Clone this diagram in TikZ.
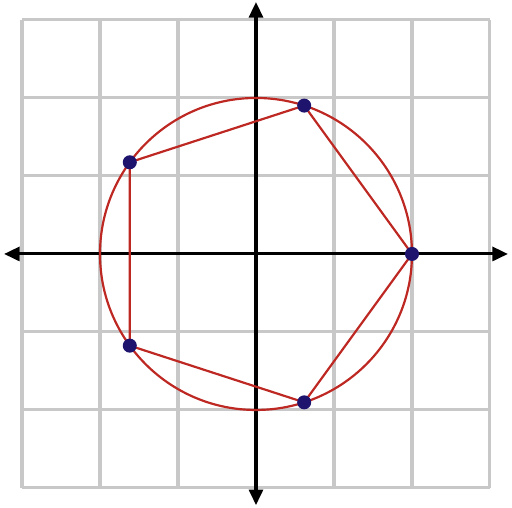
\documentclass[tikz,border=0pt]{standalone}
\usetikzlibrary{arrows.meta}
\definecolor{gridgray}{RGB}{200,200,200}
\definecolor{polyred}{RGB}{190,40,35}
\definecolor{dotblue}{RGB}{30,20,110}
\begin{document}
\begin{tikzpicture}[x=1cm,y=1cm,
  gridline/.style={draw=gridgray,line width=1.1pt},
  axis/.style={draw=black,line width=1.1pt,-{Triangle[length=0.2cm,width=0.18cm]}},
  redline/.style={draw=polyred,line width=0.8pt},
  vdot/.style={circle,fill=dotblue,inner sep=0pt,minimum size=0.18cm}]
\useasboundingbox (-3.282,-3.256) rectangle (3.282,3.256);
\draw[gridline] (-3,-3) grid (3,3);
\coordinate (o) at (0,0);
\coordinate (xl) at (-3.23,0);
\coordinate (xr) at (3.23,0);
\coordinate (yb) at (0,-3.22);
\coordinate (yt) at (0,3.23);
\draw[axis] (o) -- (xr);
\draw[axis] (o) -- (xl);
\draw[axis] (o) -- (yt);
\draw[axis] (o) -- (yb);
\draw[redline] (o) circle (2);
\foreach \i in {0,...,4}{
  \coordinate (p\i) at ({72*\i}:2);
}
\draw[redline] (p0) -- (p1) -- (p2) -- (p3) -- (p4) -- cycle;
\foreach \i in {0,...,4}{
  \node[vdot] (d\i) at (p\i) {};
}
\end{tikzpicture}
\end{document}
